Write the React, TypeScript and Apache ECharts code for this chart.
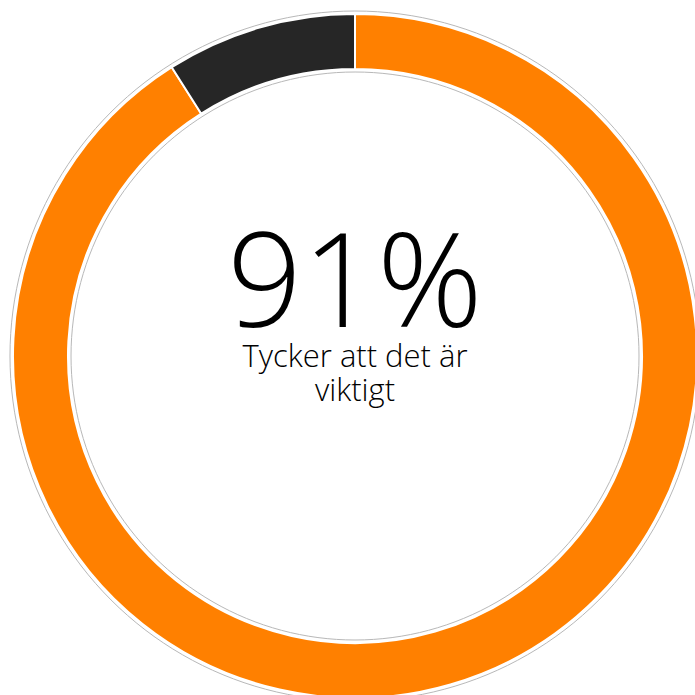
import React, { useEffect, useRef } from "react";
import * as echarts from "echarts";

const categories = ["Tycker att det är viktigt", "Övriga"];
const values = [91, 9];
const colors = ["#FF8000", "#262626"];
const bigLabel = "91%";
const subLabel = ["Tycker att det är", "viktigt"];

export default function App() {
  const ref = useRef<HTMLDivElement>(null);
  useEffect(() => {
    if (!ref.current) return;
    const chart = echarts.init(ref.current, null, { renderer: "svg" });
    const font = "'Open Sans', 'Noto Sans', sans-serif";
    chart.setOption({
      animation: false,
      backgroundColor: "#ffffff",
      series: [
        {
          type: "pie",
          silent: true,
          center: [355, 356],
          radius: [284, 345],
          label: { show: false },
          labelLine: { show: false },
          itemStyle: { color: "#ffffff", borderColor: "#b8b8b8", borderWidth: 1 },
          data: [{ value: 1, name: "bg" }],
        },
        {
          type: "pie",
          center: [355, 356],
          radius: [287, 342],
          startAngle: 90,
          clockwise: true,
          label: { show: false },
          labelLine: { show: false },
          itemStyle: { borderColor: "#ffffff", borderWidth: 2 },
          data: categories.map((c, i) => ({
            name: c,
            value: values[i],
            itemStyle: { color: colors[i] },
          })),
        },
      ],
      graphic: [
        {
          type: "text",
          x: 355,
          y: 276,
          style: {
            text: bigLabel,
            font: `300 131px ${font}`,
            lineHeight: 100,
            fill: "#000000",
            textAlign: "center",
            textVerticalAlign: "middle",
          },
        },
        {
          type: "text",
          x: 355,
          y: 338,
          style: {
            text: subLabel.join("\n"),
            font: `300 31px ${font}`,
            lineHeight: 34,
            fill: "#000000",
            textAlign: "center",
            textVerticalAlign: "top",
          },
        },
      ],
    });
    return () => chart.dispose();
  }, []);
  return (
    <div
      ref={ref}
      style={{ position: "absolute", left: 0, top: 0, width: 695, height: 695 }}
    />
  );
}
